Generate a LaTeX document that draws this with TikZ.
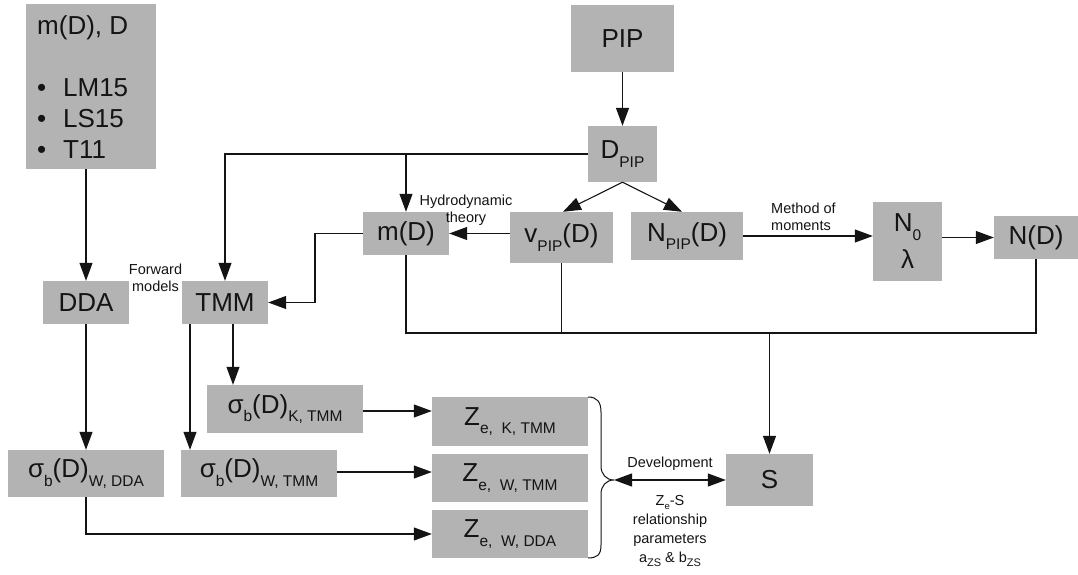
\documentclass[tikz,border=0pt]{standalone}
\usepackage{fontspec}
\setmainfont{Liberation Sans}
\usetikzlibrary{arrows.meta}
\definecolor{boxgray}{RGB}{179,179,179}
\definecolor{ink}{RGB}{20,20,20}
\newcommand\lsub[1]{\raisebox{-8.5pt}{\fontsize{15.5}{16}\selectfont #1}}
\begin{document}
\begin{tikzpicture}[x=1pt,y=-1pt,
  box/.style={fill=boxgray,draw=none,inner sep=0pt,font=\fontsize{26}{30}\selectfont,text=ink},
  lab/.style={inner sep=0pt,font=\fontsize{14.5}{17}\selectfont,text=ink},
  lst/.style={inner sep=0pt,font=\fontsize{26}{30}\selectfont,text=ink,anchor=base west},
  con/.style={draw=ink,line width=1.1pt},
  arr/.style={con,-{Triangle[length=18pt,width=13pt]}},
  darr/.style={con,{Triangle[length=18pt,width=13pt]}-{Triangle[length=18pt,width=13pt]}}]
\useasboundingbox (0,0) rectangle (1078,575);
\fill[white] (0,0) rectangle (1078,575);

% list box
\node[box,minimum width=130pt,minimum height=165pt] (mdl) at (91,86.5) {};
\node[lst] (t0) at (37,35) {m(D), D};
\node[lst] (t1) at (37,97) {\makebox[26pt][l]{•}LM15};
\node[lst] (t2) at (37,128) {\makebox[26pt][l]{•}LS15};
\node[lst] (t3) at (37,158) {\makebox[26pt][l]{•}T11};

% boxes
\node[box,minimum width=103pt,minimum height=67pt] (pip) at (622.5,38.5) {PIP};
\node[box,minimum width=69pt,minimum height=56pt] (dpip) at (622.5,154) {D\lsub{PIP}};
\node[box,minimum width=86pt,minimum height=43pt] (md) at (406,233.5) {m(D)};
\node[box,minimum width=103pt,minimum height=51pt] (vpip) at (561.5,237.5) {v\lsub{PIP}(D)};
\node[box,minimum width=112pt,minimum height=48pt] (npip) at (687,236) {N\lsub{PIP}(D)};
\node[box,minimum width=69pt,minimum height=79pt,align=center,font=\fontsize{26}{37}\selectfont] (nl) at (907.5,241.5) {N\lsub{0}\\λ};
\node[box,minimum width=84pt,minimum height=43pt] (nd) at (1036,237.5) {N(D)};
\node[box,minimum width=86pt,minimum height=43pt] (dda) at (86,302.5) {DDA};
\node[box,minimum width=86pt,minimum height=43pt] (tmm) at (225,302.5) {TMM};
\node[box,minimum width=156pt,minimum height=48pt] (sk) at (285,409) {σ\lsub{b}(D)\lsub{K, TMM}};
\node[box,minimum width=156pt,minimum height=47pt] (swt) at (259,473.5) {σ\lsub{b}(D)\lsub{W, TMM}};
\node[box,minimum width=156pt,minimum height=47pt] (swd) at (86,473.5) {σ\lsub{b}(D)\lsub{W, DDA}};
\node[box,minimum width=156pt,minimum height=49pt] (zk) at (510,421.5) {Z\lsub{e,~~K, TMM}};
\node[box,minimum width=156pt,minimum height=48pt] (zwt) at (510,478) {Z\lsub{e,~~W, TMM}};
\node[box,minimum width=156pt,minimum height=48pt] (zwd) at (510,534) {Z\lsub{e,~~W, DDA}};
\node[box,minimum width=87pt,minimum height=52pt] (s) at (769.5,480) {S};

% labels
\node[lab,align=center] (lh) at (466,210) {Hydrodynamic\\theory};
\node[lab,align=center] (lf) at (155.5,278) {Forward\\models};
\node[lab,align=left,anchor=west] (lm) at (771,217) {Method of\\moments};
\node[lab] (ld) at (670,464) {Development};
\node[lab,align=center,font=\fontsize{14.5}{19}\selectfont] (lz) at (670,531)
  {Z\raisebox{-4pt}{\fontsize{9.5}{10}\selectfont e}-S\\relationship\\parameters\\a\raisebox{-4pt}{\fontsize{11}{12}\selectfont ZS} \& b\raisebox{-4pt}{\fontsize{11}{12}\selectfont ZS}};

% connectors
\draw[arr] (pip.south) -- (dpip.north);
\draw[arr] (dda.north |- mdl.south) -- (dda.north);
\draw[arr] (dpip.west) -| (tmm.north);
\draw[arr] (md.north |- dpip.west) -- (md.north);
\draw[arr] (dpip.south) -- ([xshift=1.5pt]vpip.north);
\draw[arr] (dpip.south) -- ([xshift=-5pt]npip.north);
\draw[arr] (vpip.west |- md.east) -- (md.east);
\coordinate (c1) at (315,233.5);
\draw[arr] (md.west) -- (c1) |- (tmm.east);
\draw[arr] (npip.east) -- (nl.west |- npip.east);
\draw[arr] (nl.east |- nd.west) -- (nd.west);
\coordinate (j) at (769.5,333);
\draw[con] (md.south) |- (j) -| (nd.south);
\draw[con] (vpip.south) -- (vpip.south |- j);
\draw[arr] (j) -- (s.north);
\coordinate (tk) at ([xshift=8pt]tmm.south);
\coordinate (tw) at ([xshift=-35pt]tmm.south);
\draw[arr] (tk) -- (tk |- sk.north);
\draw[arr] (tw) -- (tw |- swt.north);
\draw[arr] (dda.south) -- (swd.north);
\coordinate (a1) at ([yshift=-2pt]sk.east);
\coordinate (a2) at ([yshift=1.5pt]swt.east);
\draw[arr] (a1) -- (zk.west |- a1);
\draw[arr] (a2) -- (zwt.west |- a2);
\draw[arr] (swd.south) |- (zwd.west);

% brace
\coordinate (bt) at (614,480);
\draw[con,line width=1pt] (588,397) .. controls (597,397) and (601,402) .. (601,412)
  -- (601,466) .. controls (601,474) and (606,480) .. (bt)
  .. controls (606,480) and (601,486) .. (601,494)
  -- (601,545) .. controls (601,555) and (597,558) .. (588,558);
\draw[darr] (bt) -- (s.west);
\end{tikzpicture}
\end{document}
